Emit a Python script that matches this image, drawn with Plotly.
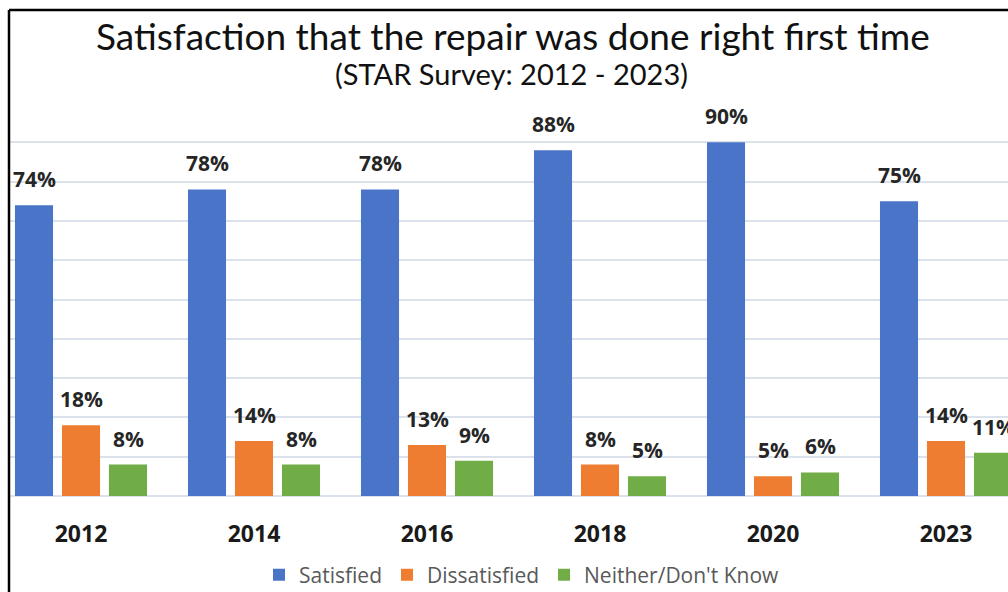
import plotly.graph_objects as go

years = ["2012", "2014", "2016", "2018", "2020", "2023"]
satisfied = [74, 78, 78, 88, 90, 75]
dissatisfied = [18, 14, 13, 8, 5, 14]
neither = [8, 8, 9, 5, 6, 11]

series = [
    ("Satisfied", satisfied, "#4a74c8"),
    ("Dissatisfied", dissatisfied, "#ee7d31"),
    ("Neither/Don't Know", neither, "#70ad47"),
]

fig = go.Figure()
for name, vals, color in series:
    fig.add_trace(go.Bar(
        x=years, y=vals, name=name,
        marker=dict(color=color, line=dict(width=0)),
        cliponaxis=True,
    ))

W, H = 1008, 592
L, R = 10, 0
T, B = 103, 96
pw = W - L - R
ph = H - T - B

def px(x):
    return (x - L) / pw

def py(y):
    return (H - B - y) / ph

# value labels above bars (x given as category index)
offsets = [-47, 0, 47]
for (name, vals, color), off in zip(series, offsets):
    for i, v in enumerate(vals):
        fig.add_annotation(x=i, y=v, xref="x", yref="y", text=f"{v}%",
                           showarrow=False, xshift=off, yshift=10,
                           xanchor="center", yanchor="bottom",
                           font=dict(family="Open Sans", size=21, color="#262626", weight="bold"))

fig.update_layout(
    width=W, height=H,
    margin=dict(l=L, r=R, t=T, b=B, autoexpand=False),
    paper_bgcolor="white", plot_bgcolor="white",
    barmode="group", bargap=0.185, bargroupgap=0.19,
    showlegend=True,
    legend=dict(orientation="h", x=px(522), xanchor="center", y=py(575), yanchor="middle",
                font=dict(family="Open Sans", size=21, color="#595959"),
                itemwidth=30, traceorder="normal"),
    xaxis=dict(type="category", range=[(L - 81) / 173, (W - R - 81) / 173],
               showgrid=False, showline=False, zeroline=False, ticks="",
               tickfont=dict(family="Open Sans", size=23, color="#1a1a1a", weight="bold"),
               ticklabelstandoff=22),
    yaxis=dict(range=[0, 100], dtick=10, showticklabels=False, showgrid=True,
               gridcolor="#dbe2eb", gridwidth=1.5, zeroline=True, zerolinecolor="#dbe2eb",
               zerolinewidth=1.5, showline=False),
)

fig.add_annotation(text="Satisfaction that the repair was done right first time",
                   xref="paper", yref="paper", x=px(513), y=py(36),
                   xanchor="center", yanchor="middle", showarrow=False,
                   font=dict(family="Lato", size=37, color="#111111"))
fig.add_annotation(text="(STAR Survey: 2012 - 2023)",
                   xref="paper", yref="paper", x=px(512), y=py(73),
                   xanchor="center", yanchor="middle", showarrow=False,
                   font=dict(family="Lato", size=29, color="#111111"))

# border lines (frame of the original chart, cropped)
fig.add_shape(type="line", xref="paper", yref="paper",
              x0=px(9), x1=px(9), y0=py(10), y1=py(592), line=dict(color="black", width=2.5))
fig.add_shape(type="line", xref="paper", yref="paper",
              x0=px(9), x1=px(1008), y0=py(10), y1=py(10), line=dict(color="black", width=2.5))

fig.write_html("out.html", config={"displayModeBar": False},
               post_script="document.body.style.margin='0';document.body.style.overflow='hidden';")
